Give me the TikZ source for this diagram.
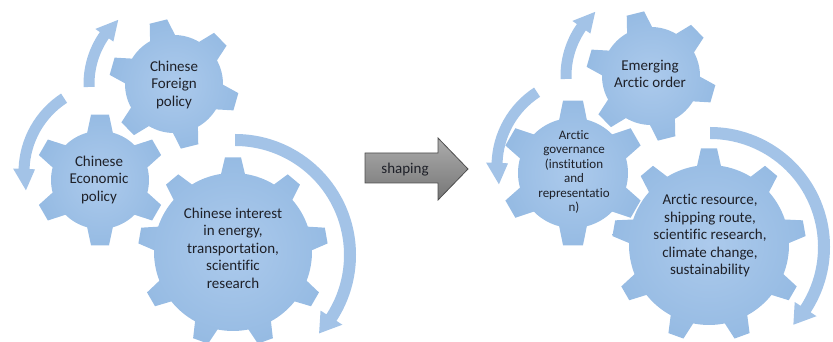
\documentclass[tikz,border=0pt]{standalone}
\usepackage{fontspec}
\setmainfont{Carlito}[Ligatures=NoCommon]
\definecolor{gearin}{RGB}{172,202,236}
\definecolor{gearout}{RGB}{150,187,227}
\definecolor{arrowblue}{RGB}{163,195,231}
\definecolor{txt}{RGB}{30,32,40}
\definecolor{shtop}{RGB}{172,172,172}
\definecolor{shbot}{RGB}{118,118,118}
\definecolor{shline}{RGB}{78,78,78}
\newcommand{\gearshape}[8]{%
  \pgfmathsetmacro\gearTH{#7/#4*57.2958}%
  \pgfmathsetmacro\gearBH{#8/#5*57.2958}%
  \pgfmathsetmacro\gearStep{360/#3}%
  \pgfmathtruncatemacro\gearLast{#3-1}%
  \shade[gearshade, shift={(#1,#2)}] ({#6+\gearBH-\gearStep}:#5pt)
    \foreach \k in {0,...,\gearLast}{
      arc[start angle={#6+\gearBH-\gearStep+\gearStep*\k}, end angle={#6-\gearBH+\gearStep*\k}, radius=#5pt]
      -- ({#6-\gearTH+\gearStep*\k}:#4pt) -- ({#6+\gearTH+\gearStep*\k}:#4pt) -- ({#6+\gearBH+\gearStep*\k}:#5pt)
    } -- cycle;
}
\newcommand{\circarrow}[8]{%
  \pgfmathsetlengthmacro\caOut{(#3+#4)*1pt}%
  \pgfmathsetlengthmacro\caIn{(#3-#4)*1pt}%
  \pgfmathsetlengthmacro\caHo{(#3+#8)*1pt}%
  \pgfmathsetlengthmacro\caHi{(#3-#8)*1pt}%
  \fill[arrowfill, shift={(#1,#2)}] (#5:\caOut) arc[start angle=#5, end angle=#6, radius=\caOut]
    -- (#6:\caHo) -- (#7:#3pt) -- (#6:\caHi) -- (#6:\caIn)
    arc[start angle=#6, end angle=#5, radius=\caIn] -- cycle;
}
\begin{document}
\begin{tikzpicture}[x=1pt,y=1pt,
  gearshade/.style={inner color=gearin, outer color=gearout},
  arrowfill/.style={fill=arrowblue},
  geartext/.style={text=txt, align=center, font=\fontsize{15}{17.5}\selectfont, inner sep=0pt}]
\useasboundingbox (0,0) rectangle (833,342);
% circular arrows
\circarrow{174}{258}{85}{5.5}{182}{145}{131}{11}
\circarrow{112}{170}{88}{5.5}{123}{178}{192}{11}
\circarrow{235}{87}{115}{6}{90}{-33}{-43}{13}
\circarrow{651}{266}{85}{5.5}{182}{145}{131}{11}
\circarrow{585}{176}{88}{5.5}{123}{178}{192}{11}
\circarrow{710}{95}{114}{6}{90}{-33}{-43}{13}
% gears
\gearshape{174}{258}{6}{65}{49}{104}{9}{13}
\gearshape{100}{162}{6}{66}{49}{90}{9}{13}
\gearshape{233}{90}{9}{95}{79}{90}{8}{12}
\gearshape{651}{266}{6}{65}{49}{104}{9}{13}
\gearshape{573}{169}{6}{73}{55}{90}{10}{14}
\gearshape{709}{97}{9}{97}{80}{90}{8}{12}
% texts
\node[geartext] (fp) at (174,257) {Chinese\\Foreign\\policy};
\node[geartext] (ep) at (99,162) {Chinese\\Economic\\policy};
\node[geartext] (ci) at (233,94) {Chinese interest\\in energy,\\transportation,\\scientific\\research};
\node[geartext] (eao) at (650,268) {Emerging\\Arctic order};
\node[geartext, font=\fontsize{13}{14.5}\selectfont] (ag) at (574,170) {Arctic\\governance\\(institution\\and\\representatio\\n)};
\node[geartext] (ar) at (710,106) {Arctic resource,\\shipping route,\\scientific research,\\climate change,\\sustainability};
% shaping arrow
\shadedraw[top color=shtop, bottom color=shbot, draw=shline, line width=0.8pt]
  (365,159) -- (438,159) -- (438,142) -- (468,173) -- (438,204) -- (438,189) -- (365,189) -- cycle;
\node[text=txt, font=\fontsize{15}{17}\selectfont, inner sep=0pt] (shaping) at (405,172) {shaping};
\end{tikzpicture}
\end{document}
